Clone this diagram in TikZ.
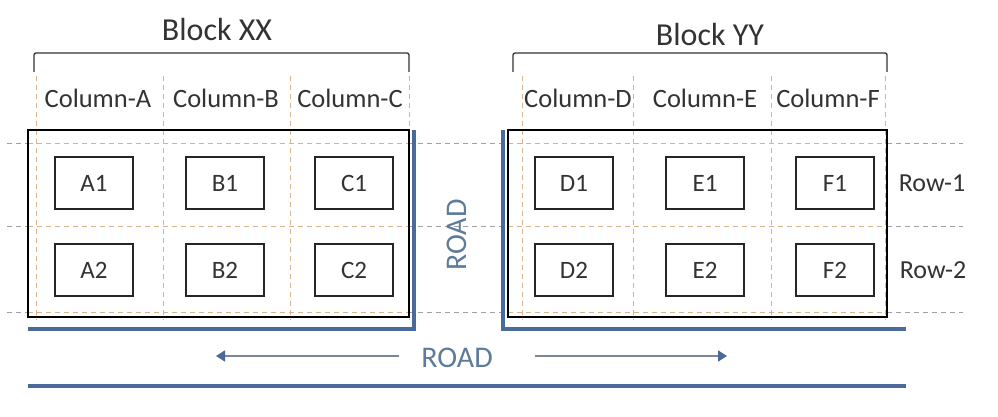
\documentclass[tikz,border=0pt]{standalone}
\usepackage{fontspec}
\setmainfont{Carlito}
\usetikzlibrary{arrows.meta}
\definecolor{roadblue}{HTML}{4A6A9C}
\definecolor{roadtext}{HTML}{5E7C9A}
\definecolor{arrowline}{HTML}{7D8794}
\definecolor{txt}{HTML}{333333}
\definecolor{orng}{HTML}{D9B48A}
\definecolor{gdash}{HTML}{A0A0A0}
\begin{document}
\begin{tikzpicture}[x=1pt,y=-1pt,
  plotbox/.style={draw=black!85, line width=1.4pt, minimum width=78pt, minimum height=52pt, inner sep=0pt, font=\fontsize{25}{30}\selectfont, text=txt},
  blocktitle/.style={font=\fontsize{32}{38}\selectfont, text=txt, inner sep=0pt},
  collabel/.style={font=\fontsize{26.5}{31}\selectfont, text=txt, inner sep=0pt},
  rowlabel/.style={font=\fontsize{26}{31}\selectfont, text=txt, inner sep=0pt},
  roadlabel/.style={font=\fontsize{30}{36}\selectfont, text=roadtext, inner sep=0pt},
  bracket/.style={draw=txt, line width=1.3pt, rounded corners=2pt},
  blockrect/.style={draw=black, line width=2pt},
  roadline/.style={draw=roadblue, line width=3.5pt},
  odash/.style={draw=orng, line width=1pt, dash pattern=on 5pt off 4pt},
  gdashed/.style={draw=gdash, line width=1pt, dash pattern=on 5pt off 4pt},
  roadarrow/.style={draw=arrowline, line width=1.6pt, -{Triangle[length=9pt,width=11pt,fill=roadblue,color=roadblue]}}
]
\useasboundingbox (0,0) rectangle (998,417);
\fill[white] (0,0) rectangle (998,417);

% horizontal dashed grid lines
\foreach \yy in {143,226,312}{
  \draw[gdashed] (7,\yy) -- (28,\yy);
  \draw[odash] (28,\yy) -- (409,\yy);
  \draw[gdashed] (409,\yy) -- (508,\yy);
  \draw[odash] (508,\yy) -- (887,\yy);
  \draw[gdashed] (887,\yy) -- (963,\yy);
}
% vertical dashed column lines
\foreach \xx in {36,163,290,409,522,633,771,885}{
  \draw[odash] (\xx,76) -- (\xx,320);
}

% block outlines
\draw[blockrect] (28,130) rectangle (409,317);
\draw[blockrect] (508,130) rectangle (887,317);

% roads
\draw[roadline] (28,329) -- (414,329) -- (414,130);
\draw[roadline] (503,130) -- (503,329) -- (906,329);
\draw[roadline] (28,386) -- (906,386);

% brackets and titles
\draw[bracket] (34,72) -- (34,53) -- (409,53) -- (409,72);
\draw[bracket] (513,72) -- (513,53) -- (887,53) -- (887,72);
\node[blocktitle] (bxx) at (217,30) {Block XX};
\node[blocktitle] (byy) at (710,35) {Block YY};

% column labels
\node[collabel] (colA) at (98,98) {Column-A};
\node[collabel] (colB) at (226,98) {Column-B};
\node[collabel] (colC) at (350,98) {Column-C};
\node[collabel] (colD) at (578,98) {Column-D};
\node[collabel] (colE) at (705,98) {Column-E};
\node[collabel] (colF) at (828,98) {Column-F};

% plots
\node[plotbox] (A1) at (94,183) {A1};
\node[plotbox] (B1) at (225,183) {B1};
\node[plotbox] (C1) at (354,183) {C1};
\node[plotbox] (A2) at (94,270) {A2};
\node[plotbox] (B2) at (225,270) {B2};
\node[plotbox] (C2) at (354,270) {C2};
\node[plotbox] (D1) at (574,183) {D1};
\node[plotbox] (E1) at (705,183) {E1};
\node[plotbox] (F1) at (835,183) {F1};
\node[plotbox] (D2) at (574,270) {D2};
\node[plotbox] (E2) at (705,270) {E2};
\node[plotbox] (F2) at (835,270) {F2};

% row labels
\node[rowlabel] (row1) at (932,183) {Row-1};
\node[rowlabel] (row2) at (933,270) {Row-2};

% road labels
\node[roadlabel, rotate=90] (roadv) at (457,235) {ROAD};
\node[roadlabel] (roadh) at (457,358) {ROAD};

% arrows
\coordinate (lend) at (216,356);
\coordinate (rend) at (727,356);
\draw[roadarrow] ([xshift=-22pt]roadh.west |- lend) -- (lend);
\draw[roadarrow] ([xshift=42pt]roadh.east |- rend) -- (rend);
\end{tikzpicture}
\end{document}
